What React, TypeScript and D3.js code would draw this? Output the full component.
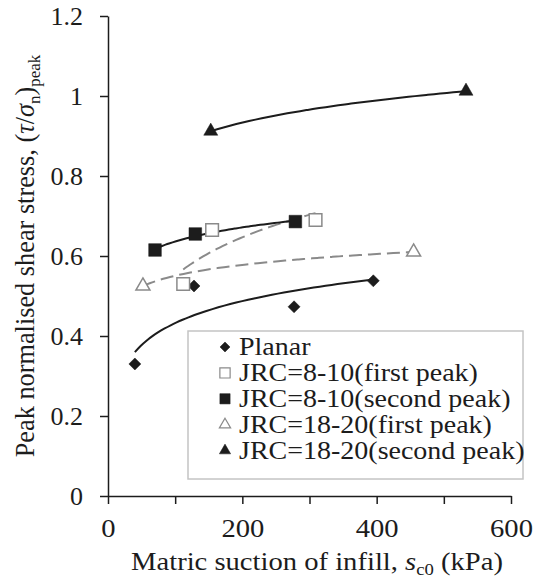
import React, { useEffect, useRef } from "react";
import * as d3 from "d3";

// values: matric suction (kPa) vs peak normalised shear stress
const planarSuction = [40, 128, 277, 395];
const planarStress = [0.33, 0.525, 0.473, 0.538];
const jrc810FirstSuction = [112, 155, 309];
const jrc810FirstStress = [0.53, 0.665, 0.69];
const jrc810SecondSuction = [70, 130, 279];
const jrc810SecondStress = [0.615, 0.655, 0.686];
const jrc1820FirstSuction = [52, 455];
const jrc1820FirstStress = [0.525, 0.61];
const jrc1820SecondSuction = [153, 533];
const jrc1820SecondStress = [0.912, 1.012];

const seriesNames = [
  "Planar",
  "JRC=8-10(first peak)",
  "JRC=8-10(second peak)",
  "JRC=18-20(first peak)",
  "JRC=18-20(second peak)",
];

const xTicks = [0, 100, 200, 300, 400, 500, 600];
const xTickLabels = ["0", "", "200", "", "400", "", "600"];
const yTicks = [0, 0.2, 0.4, 0.6, 0.8, 1, 1.2];
const yTickLabels = ["0", "0.2", "0.4", "0.6", "0.8", "1", "1.2"];

const FONT = "'Liberation Serif', 'Times New Roman', serif";
const BLACK = "#1c1c1c";
const GREY = "#8a8a8a";

type Series = {
  name: string;
  xs: number[];
  ys: number[];
  shape: "diamond" | "square" | "triangle";
  filled: boolean;
  dashed: boolean;
};

const series: Series[] = [
  { name: seriesNames[0], xs: planarSuction, ys: planarStress, shape: "diamond", filled: true, dashed: false },
  { name: seriesNames[1], xs: jrc810FirstSuction, ys: jrc810FirstStress, shape: "square", filled: false, dashed: true },
  { name: seriesNames[2], xs: jrc810SecondSuction, ys: jrc810SecondStress, shape: "square", filled: true, dashed: false },
  { name: seriesNames[3], xs: jrc1820FirstSuction, ys: jrc1820FirstStress, shape: "triangle", filled: false, dashed: true },
  { name: seriesNames[4], xs: jrc1820SecondSuction, ys: jrc1820SecondStress, shape: "triangle", filled: true, dashed: false },
];

// least squares fit of y = a + b ln(x), like the excel log trendline
function logFit(xs: number[], ys: number[]) {
  const lx = xs.map((v) => Math.log(v));
  const mx = d3.mean(lx) as number;
  const my = d3.mean(ys) as number;
  let sxy = 0;
  let sxx = 0;
  lx.forEach((v, i) => {
    sxy += (v - mx) * (ys[i] - my);
    sxx += (v - mx) * (v - mx);
  });
  const b = sxy / sxx;
  return { a: my - b * mx, b };
}

function markerPath(shape: string, size: number) {
  if (shape === "triangle") return d3.symbol(d3.symbolTriangle, size)() as string;
  return d3.symbol(d3.symbolSquare, size)() as string;
}

const Chart = ({ width = 543, height = 582 }) => {
  const ref = useRef<SVGSVGElement | null>(null);

  useEffect(() => {
    if (!ref.current) return;
    const svg = d3.select(ref.current);
    svg.selectAll("*").remove();

    const x = d3.scaleLinear().domain([0, 600]).range([108, 511]);
    const y = d3.scaleLinear().domain([0, 1.2]).range([496, 16]);

    // axes
    const yAxis = svg
      .append("g")
      .attr("transform", `translate(${x(0)},0)`)
      .call(d3.axisLeft(y).tickValues(yTicks).tickSize(8).tickSizeOuter(0).tickFormat((_d, i) => yTickLabels[i]));
    yAxis.select(".domain").attr("stroke", BLACK).attr("stroke-width", 1.5);
    yAxis.selectAll(".tick line").attr("stroke", BLACK).attr("stroke-width", 1.5);
    yAxis
      .selectAll(".tick text")
      .attr("x", -25)
      .attr("font-family", FONT)
      .attr("font-size", 26)
      .attr("fill", BLACK);

    const xAxis = svg
      .append("g")
      .attr("transform", `translate(0,${y(0)})`)
      .call(d3.axisBottom(x).tickValues(xTicks).tickSize(8).tickSizeOuter(0).tickFormat((_d, i) => xTickLabels[i]));
    xAxis.select(".domain").attr("stroke", BLACK).attr("stroke-width", 1.5);
    xAxis.selectAll(".tick line").attr("stroke", BLACK).attr("stroke-width", 1.5);
    xAxis
      .selectAll(".tick text")
      .attr("y", 23)
      .attr("transform", "scale(1.1,1)")
      .attr("font-family", FONT)
      .attr("font-size", 26)
      .attr("fill", BLACK);
    svg.selectAll(".domain").attr("fill", "none");

    // trend lines
    const line = d3
      .line<number>()
      .x((d) => x(d))
      .curve(d3.curveMonotoneX);
    series.forEach((s) => {
      const fit = logFit(s.xs, s.ys);
      const [lo, hi] = d3.extent(s.xs) as [number, number];
      const pts = d3.range(0, 41).map((i) => lo + ((hi - lo) * i) / 40);
      svg
        .append("path")
        .datum(pts)
        .attr("d", line.y((d) => y(fit.a + fit.b * Math.log(d))))
        .attr("fill", "none")
        .attr("stroke", s.dashed ? GREY : BLACK)
        .attr("stroke-width", 2)
        .attr("stroke-dasharray", s.dashed ? "13,6" : null);
    });

    // markers
    series.forEach((s) => {
      const size = s.shape === "diamond" ? 72 : s.shape === "square" ? 160 : 85;
      svg
        .append("g")
        .selectAll("path")
        .data(s.xs.map((v, i) => [v, s.ys[i]]))
        .enter()
        .append("path")
        .attr("d", markerPath(s.shape, size))
        .attr("transform", (d) => `translate(${x(d[0])},${y(d[1])})${s.shape === "diamond" ? " rotate(45)" : ""}`)
        .attr("fill", s.filled ? BLACK : "#fff")
        .attr("stroke", s.filled ? BLACK : GREY)
        .attr("stroke-width", s.filled ? 0.5 : 1.5);
    });

    // legend
    const lg = svg.append("g");
    lg.append("rect")
      .attr("x", 188)
      .attr("y", 331)
      .attr("width", 335)
      .attr("height", 148)
      .attr("fill", "#fff")
      .attr("stroke", "#c4c4c4")
      .attr("stroke-width", 1.5);
    series.forEach((s, i) => {
      const base = 355 + i * 25.9;
      const size = s.shape === "diamond" ? 50 : s.shape === "square" ? 105 : 55;
      lg.append("path")
        .attr("d", markerPath(s.shape, size))
        .attr("transform", `translate(225,${base - 8})${s.shape === "diamond" ? " rotate(45)" : ""}`)
        .attr("fill", s.filled ? BLACK : "#fff")
        .attr("stroke", s.filled ? BLACK : GREY)
        .attr("stroke-width", s.filled ? 0.5 : 1.2);
      lg.append("text")
        .attr("transform", `translate(239,${base}) scale(1.12,1)`)
        .attr("font-family", FONT)
        .attr("font-size", 25)
        .attr("fill", BLACK)
        .text(s.name);
    });

    // x axis title
    const xt = svg
      .append("text")
      .attr("transform", "translate(317,570) scale(1.1,1)")
      .attr("text-anchor", "middle")
      .attr("font-family", FONT)
      .attr("font-size", 26)
      .attr("fill", BLACK);
    xt.append("tspan").text("Matric suction of infill, ");
    xt.append("tspan").attr("font-style", "italic").text("s");
    xt.append("tspan").attr("font-size", 17).attr("dy", 5).text("c0");
    xt.append("tspan").attr("dy", -5).text(" (kPa)");

    // y axis title
    const yt = svg
      .append("text")
      .attr("transform", "translate(34,256) rotate(-90)")
      .attr("text-anchor", "middle")
      .attr("font-family", FONT)
      .attr("font-size", 26.3)
      .attr("fill", BLACK);
    yt.append("tspan").text("Peak normalised shear stress, (");
    yt.append("tspan").attr("font-style", "italic").text("\u03c4");
    yt.append("tspan").text("/");
    yt.append("tspan").attr("font-style", "italic").text("\u03c3");
    yt.append("tspan").attr("font-size", 17).attr("dy", 6).text("n");
    yt.append("tspan").attr("dy", -6).text(")");
    yt.append("tspan").attr("font-size", 17).attr("dy", 6).text("peak");
  }, [width, height]);

  return (
    <svg
      ref={ref}
      width={width}
      height={height}
      style={{ position: "absolute", left: 0, top: 0, background: "#fff" }}
    />
  );
};

export default function App() {
  return <Chart />;
}
